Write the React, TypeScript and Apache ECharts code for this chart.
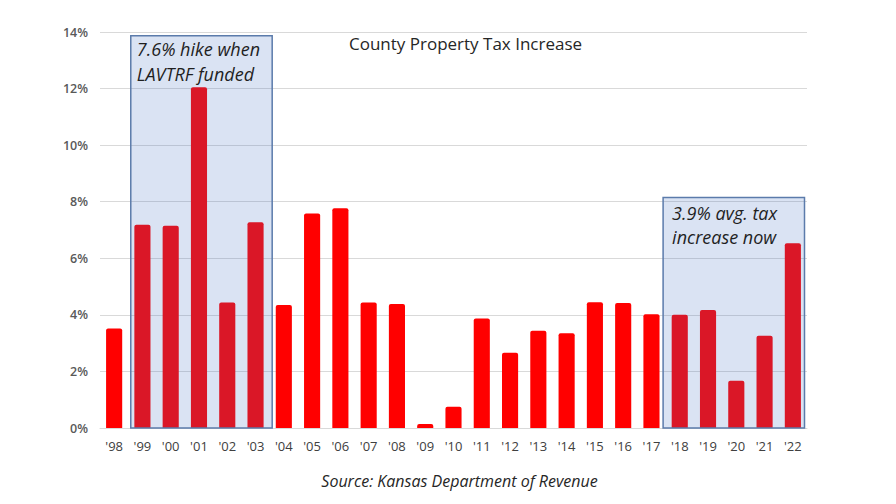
import React, { useEffect, useRef } from "react";
import * as echarts from "echarts";

const years = ["'98", "'99", "'00", "'01", "'02", "'03", "'04", "'05", "'06", "'07", "'08", "'09", "'10", "'11", "'12", "'13", "'14", "'15", "'16", "'17", "'18", "'19", "'20", "'21", "'22"];
const increases = [3.52, 7.19, 7.15, 12.05, 4.44, 7.27, 4.35, 7.58, 7.77, 4.44, 4.38, 0.14, 0.75, 3.87, 2.66, 3.44, 3.35, 4.45, 4.42, 4.02, 4.0, 4.17, 1.67, 3.26, 6.53];
const boxStarts = [1, 20];
const boxEnds = [5, 24];
const boxTops = [13.87, 8.15];
const boxTexts = ["7.6% hike when\nLAVTRF funded", "3.9% avg. tax\nincrease now"];
const titleText = "County Property Tax Increase";
const sourceText = "Source: Kansas Department of Revenue";

const FONT = "Open Sans, Lato, sans-serif";

export default function App() {
  const ref = useRef<HTMLDivElement>(null);
  useEffect(() => {
    const chart = echarts.init(ref.current!, null, { renderer: "svg" });
    const shifts = [2.5, -2.5];
    const textDx = [6, 9];
    const textDy = [1, 3.5];
    const lineHeights = [25, 24];
    chart.setOption({
      animation: false,
      backgroundColor: "#ffffff",
      grid: { left: 100, right: 89, top: 32, bottom: 76 },
      xAxis: {
        type: "category",
        data: years,
        axisLine: { show: true, lineStyle: { color: "#d9d9d9" } },
        axisTick: { show: false },
        axisLabel: { color: "#404040", fontFamily: FONT, fontSize: 13, margin: 11 },
      },
      yAxis: {
        type: "value",
        min: 0,
        max: 14,
        interval: 2,
        axisLine: { show: false },
        axisTick: { show: false },
        splitLine: { lineStyle: { color: "#d9d9d9" } },
        axisLabel: { formatter: "{value}%", color: "#595959", fontFamily: FONT, fontSize: 12.5, fontWeight: 600, margin: 12 },
      },
      series: [
        {
          type: "bar",
          data: increases,
          barWidth: "57%",
          itemStyle: { color: "#ff0000", borderRadius: [2, 2, 0, 0] },
          z: 2,
        },
        {
          type: "custom",
          z: 5,
          data: boxStarts.map((s, i) => [s, boxEnds[i], boxTops[i]]),
          encode: { x: [0, 1], y: 2 },
          renderItem: (params: any, api: any) => {
            const i = params.dataIndex;
            const bw = api.size([1, 0])[0];
            const p0 = api.coord([api.value(0), 0]);
            const p1 = api.coord([api.value(1), api.value(2)]);
            const x0 = p0[0] - bw / 2 + shifts[i];
            const x1 = p1[0] + bw / 2 + shifts[i];
            const y0 = p1[1];
            const y1 = p0[1];
            return {
              type: "group",
              children: [
                {
                  type: "rect",
                  shape: { x: x0, y: y0, width: x1 - x0, height: y1 - y0 },
                  style: { fill: "rgba(68,114,196,0.2)", stroke: "#5b7bab", lineWidth: 1.5 },
                },
                {
                  type: "text",
                  x: x0 + textDx[i],
                  y: y0 + textDy[i],
                  style: {
                    text: boxTexts[i],
                    fill: "#1f1f1f",
                    fontFamily: FONT,
                    fontStyle: "italic",
                    fontSize: 18,
                    lineHeight: lineHeights[i],
                    verticalAlign: "top",
                    align: "left",
                  },
                },
              ],
            };
          },
        },
      ],
      graphic: [
        {
          type: "text",
          x: 465.5,
          y: 43,
          style: {
            text: titleText,
            fill: "#262626",
            fontFamily: FONT,
            fontSize: 17,
            align: "center",
            verticalAlign: "middle",
          },
        },
        {
          type: "text",
          x: 459.5,
          y: 481,
          style: {
            text: sourceText,
            fill: "#262626",
            fontFamily: FONT,
            fontStyle: "italic",
            fontSize: 16,
            align: "center",
            verticalAlign: "middle",
          },
        },
      ],
    });
    return () => chart.dispose();
  }, []);
  return <div ref={ref} style={{ position: "fixed", left: 0, top: 0, width: 896, height: 504 }} />;
}
